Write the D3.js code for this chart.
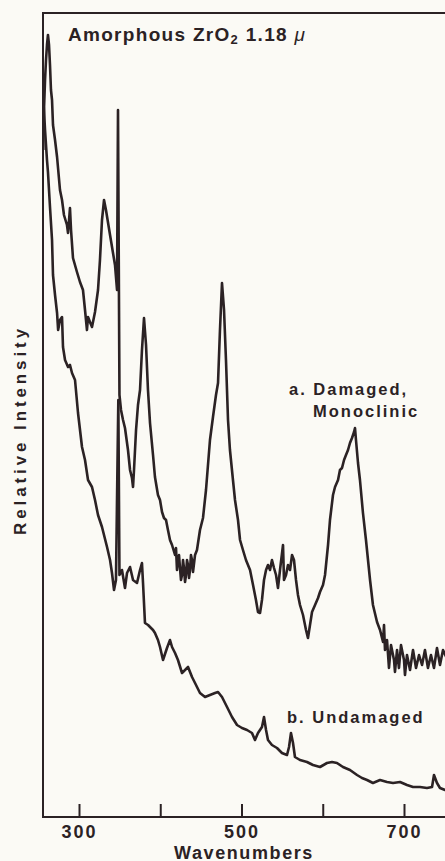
<!DOCTYPE html>
<html>
<head>
<meta charset="utf-8">
<script src="https://cdn.jsdelivr.net/npm/d3@7"></script>
<style>
  html, body { margin: 0; padding: 0; background: #fbfaf5; }
  svg { display: block; }
  text { font-family: "Liberation Sans", Arial, Helvetica, sans-serif; font-weight: bold; fill: #2b2224; }
</style>
</head>
<body>
<svg id="chart" width="445" height="861"></svg>
<script>
// Raman spectra of an amorphous ZrO2 film (1.18 micron): [wavenumber cm^-1, relative intensity]
const damaged = [
  [256.0,66.7],[256.9,70.7],[258.2,73.7],[259.4,75.7],[260.6,77.2],[261.8,78.2],[263.1,77.2],[264.3,75.2],
  [265.5,72.7],[266.8,71.7],[268.0,69.2],[270.5,67.7],[273.0,66.0],[276.6,62.7],[279.1,61.7],[281.5,60.2],
  [285.2,59.2],[286.5,58.4],[288.9,60.9],[290.2,58.7],[292.6,55.9],[297.5,54.5],[301.2,53.5],[304.9,52.7],
  [307.4,50.7],[309.8,48.7],[311.1,50.0],[313.5,49.5],[316.0,49.0],[319.7,50.5],[323.4,52.7],[325.8,55.7],
  [328.3,59.7],[330.8,61.7],[333.2,60.7],[338.2,58.2],[344.3,55.2],[346.8,52.7],[348.0,70.7],[349.8,42.2],
  [351.7,40.7],[354.2,39.7],[356.6,38.9],[360.3,36.7],[362.8,34.7],[365.2,33.9],[366.5,33.0],[367.7,34.7],
  [370.2,38.7],[372.6,41.2],[375.1,42.7],[377.5,46.7],[380.0,49.9],[382.5,47.2],[384.9,42.7],[387.4,39.4],
  [391.1,36.2],[393.5,34.0],[397.2,32.2],[399.7,31.7],[402.2,30.5],[404.6,29.9],[407.1,29.7],[409.5,28.7],
  [412.0,27.7],[414.5,27.2],[418.2,26.2],[419.4,26.9],[420.6,24.7],[421.8,25.7],[423.1,26.2],[424.3,24.9],
  [425.5,23.7],[426.8,24.2],[428.0,25.7],[429.2,24.9],[430.5,23.5],[431.7,24.2],[432.9,25.7],[434.2,25.2],
  [435.4,23.9],[436.6,24.7],[437.8,26.2],[439.1,25.7],[440.3,24.5],[442.8,26.2],[445.2,26.7],[448.9,28.7],
  [452.6,29.9],[456.3,32.7],[461.2,37.7],[464.9,40.0],[468.6,42.2],[471.1,43.4],[473.5,48.7],[476.0,53.4],
  [478.5,50.7],[480.9,45.7],[483.4,39.7],[485.8,36.7],[489.5,33.7],[492.0,31.7],[495.7,29.7],[498.2,27.7],
  [501.8,26.7],[505.5,25.7],[510.5,24.7],[514.2,23.2],[517.8,21.7],[520.3,20.5],[522.8,20.4],[525.2,21.7],
  [527.7,23.7],[530.2,24.7],[532.6,25.2],[535.1,24.7],[537.5,25.7],[540.0,24.9],[542.5,24.2],[544.9,22.9],
  [547.4,24.7],[551.1,27.2],[552.3,23.7],[554.8,24.2],[557.2,25.2],[559.7,24.7],[562.2,26.2],[564.6,25.7],
  [567.1,23.7],[569.5,22.2],[572.0,21.2],[575.7,20.2],[579.4,18.7],[581.8,17.9],[584.3,19.2],[586.8,20.5],
  [590.5,21.2],[594.2,21.9],[596.6,22.5],[600.3,23.2],[602.8,24.2],[606.5,27.2],[608.9,29.7],[612.6,32.2],
  [615.1,33.0],[618.8,33.7],[621.2,34.7],[623.7,34.9],[626.2,35.7],[628.6,36.2],[631.1,36.7],[633.5,37.4],
  [636.0,37.9],[638.5,38.5],[639.7,38.9],[640.9,37.7],[643.4,35.4],[645.8,33.7],[649.5,30.4],[653.2,27.7],
  [658.2,23.7],[661.8,21.2],[666.8,19.5],[670.5,18.7],[674.2,17.5],[675.4,19.2],[676.6,16.7],[679.1,17.7],
  [681.5,14.9],[684.0,17.2],[687.7,15.7],[688.9,14.5],[691.4,16.7],[693.8,14.9],[696.3,17.2],[700.0,15.7],
  [701.2,14.2],[703.7,16.2],[707.4,14.7],[711.1,16.7],[714.8,14.9],[718.5,16.2],[722.2,15.2],[725.8,16.7],
  [729.5,14.9],[733.2,16.2],[736.9,14.9],[740.6,16.9],[744.3,15.2],[748.0,16.7],[752.0,16.0],[757.0,15.5]
];

const undamaged = [
  [256.0,71.7],[256.9,70.7],[258.2,68.7],[260.6,65.7],[261.8,64.5],[264.3,61.0],[266.8,57.7],[268.0,54.2],
  [270.5,52.2],[273.0,50.4],[274.3,48.7],[276.6,49.7],[279.1,50.0],[280.3,47.0],[282.8,45.7],[286.5,45.0],
  [288.9,45.2],[291.4,44.4],[295.1,43.7],[298.8,40.4],[303.7,37.0],[307.4,35.7],[311.1,33.7],[316.0,33.0],
  [319.7,31.7],[323.4,30.2],[328.3,29.0],[334.5,27.0],[338.2,25.7],[340.6,24.4],[343.1,22.7],[345.5,23.7],
  [348.4,41.7],[349.8,24.2],[352.9,24.7],[356.6,22.9],[359.1,24.4],[362.8,25.0],[366.5,23.7],[371.4,23.4],
  [375.1,24.7],[377.5,25.4],[378.8,23.4],[381.2,19.4],[385.0,19.2],[387.4,19.0],[391.1,18.7],[393.5,18.4],
  [397.2,17.7],[399.7,17.0],[403.4,15.7],[408.3,16.9],[412.0,17.7],[414.5,17.0],[418.2,16.4],[421.8,15.7],
  [426.8,14.4],[430.5,14.7],[434.2,15.0],[439.1,14.0],[442.8,13.4],[448.9,12.4],[455.1,12.0],[461.2,12.2],
  [467.4,12.4],[471.1,12.5],[476.0,12.0],[482.2,11.0],[488.3,10.0],[494.5,9.2],[500.6,8.9],[506.8,8.7],
  [512.9,8.4],[516.6,7.7],[520.3,8.4],[525.2,9.0],[527.7,10.0],[530.2,8.7],[532.6,7.7],[537.5,7.2],
  [543.7,6.9],[549.8,6.4],[556.0,6.2],[558.5,7.0],[560.9,8.4],[563.4,7.4],[565.8,6.0],[572.0,5.7],
  [580.6,5.5],[588.0,5.2],[596.6,5.0],[605.2,5.4],[611.4,5.5],[617.5,5.4],[624.9,5.0],[633.5,4.7],
  [642.2,4.2],[648.3,3.9],[654.5,3.7],[661.8,3.4],[670.5,3.7],[679.1,3.5],[686.5,3.4],[695.1,3.5],
  [703.7,3.2],[711.1,3.0],[719.7,3.0],[728.3,2.9],[734.5,3.0],[736.9,4.2],[740.6,3.4],[744.3,2.9],
  [750.5,2.7],[756.6,2.9]
];

const tickValues = [300, 400, 500, 600, 700];
const tickLabels = ["300", "", "500", "", "700"];
const seriesLabels = ["a. Damaged,", "Monoclinic", "b. Undamaged"];

const svg = d3.select("#chart");
const W = 445, H = 861;
const ink = "#2b2224";

svg.append("rect").attr("width", W).attr("height", H).attr("fill", "#fbfaf5");

const x = d3.scaleLinear().domain([300, 700]).range([79, 404]);
const y = d3.scaleLinear().domain([0, 80.4]).range([817, 13]);
const x0 = 43, yTop = 13, yBot = 817;

// frame: left, top, bottom
svg.append("path")
  .attr("d", `M${W + 5},${yTop} L${x0},${yTop} L${x0},${yBot} L${W + 5},${yBot}`)
  .attr("fill", "none").attr("stroke", ink).attr("stroke-width", 2);

// bottom axis with inward ticks
const xAxis = d3.axisBottom(x).tickValues(tickValues).tickSizeInner(-13).tickSizeOuter(0)
  .tickFormat((d, i) => tickLabels[i]);
const gx = svg.append("g").attr("transform", `translate(0,${yBot})`).call(xAxis);
gx.select(".domain").remove();
gx.selectAll(".tick line").attr("stroke", ink).attr("stroke-width", 2);
gx.selectAll(".tick text")
  .attr("y", 21).attr("dy", 0)
  .style("font-size", "18px").style("letter-spacing", "2px")
  .attr("fill", ink);

// spectra
const line = d3.line().x(d => x(d[0])).y(d => y(d[1]));
svg.append("clipPath").attr("id", "plot")
  .append("rect").attr("x", x0).attr("y", 0).attr("width", W).attr("height", yBot);

[damaged, undamaged].forEach(series => {
  svg.append("path")
    .datum(series)
    .attr("clip-path", "url(#plot)")
    .attr("d", line)
    .attr("fill", "none")
    .attr("stroke", ink)
    .attr("stroke-width", 2.6)
    .attr("stroke-linejoin", "round");
});

// title
const title = svg.append("text").attr("x", 68).attr("y", 41)
  .style("font-size", "19px").style("letter-spacing", "1.3px");
title.append("tspan").text("Amorphous ZrO");
title.append("tspan").text("2").style("font-size", "13px").attr("dy", 3);
title.append("tspan").text(" 1.18 ").attr("dy", -3);
title.append("tspan").text("μ").style("font-style", "italic").style("font-weight", "normal");

// axis titles
svg.append("text").attr("x", 244).attr("y", 858.5).attr("text-anchor", "middle")
  .style("font-size", "18px").style("letter-spacing", "1.6px").text("Wavenumbers");
svg.append("text").attr("transform", "translate(26,430) rotate(-90)").attr("text-anchor", "middle")
  .style("font-size", "17px").style("letter-spacing", "3.9px").text("Relative Intensity");

// series labels
svg.append("text").attr("x", 289).attr("y", 395).style("font-size", "16.5px").style("letter-spacing", "2px").text(seriesLabels[0]);
svg.append("text").attr("x", 313).attr("y", 417).style("font-size", "16.5px").style("letter-spacing", "2px").text(seriesLabels[1]);
svg.append("text").attr("x", 287).attr("y", 723).style("font-size", "16.5px").style("letter-spacing", "2px").text(seriesLabels[2]);
</script>
</body>
</html>
